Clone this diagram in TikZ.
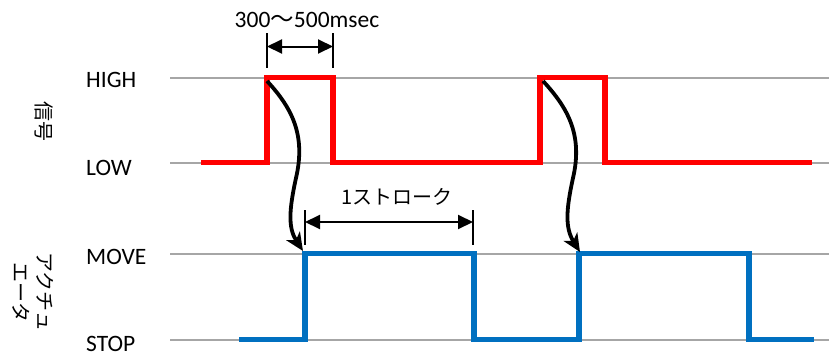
\documentclass[tikz,border=0pt]{standalone}
\usepackage{fontspec}
\setmainfont{Carlito}
\newfontfamily\cjk{Noto Sans CJK JP}
\usetikzlibrary{arrows.meta}
\definecolor{sigred}{RGB}{255,0,0}
\definecolor{actblue}{RGB}{0,112,192}
\definecolor{gridgray}{RGB}{166,166,166}
\begin{document}
\begin{tikzpicture}[x=1pt,y=-1pt,
  level/.style={draw=gridgray,line width=2pt},
  wave/.style={line width=5.5pt,line join=miter,line cap=butt},
  lbl/.style={anchor=west,inner sep=0pt,font=\fontsize{23.5}{26}\selectfont},
  jlbl/.style={inner sep=0pt,font=\cjk\fontsize{20}{24}\selectfont},
  dim/.style={line width=2pt,{Triangle[length=15pt,width=14pt]}-{Triangle[length=15pt,width=14pt]}},
  tick/.style={line width=1.5pt},
  cause/.style={line width=3.8pt,-{Stealth[length=18pt,width=16pt,inset=5pt]}}]
\useasboundingbox (0,0) rectangle (829,356);
% level lines
\coordinate (hl) at (170,77.5); \coordinate (hr) at (829,77.5);
\coordinate (ll) at (170,162.5); \coordinate (lr) at (829,162.5);
\coordinate (ml) at (170,253.5); \coordinate (mr) at (829,253.5);
\coordinate (sl) at (170,339.5); \coordinate (sr) at (829,339.5);
\draw[level] (hl) -- (hr);
\draw[level] (ll) -- (lr);
\draw[level] (ml) -- (mr);
\draw[level] (sl) -- (sr);
% labels
\node[lbl] (high) at (86,80) {HIGH};
\node[lbl] (low) at (86,168) {LOW};
\node[lbl] (move) at (86,257) {MOVE};
\node[lbl] (stop) at (86,344) {STOP};
\node[jlbl,rotate=-90] (sig) at (44,121) {信号};
\node[jlbl,rotate=-90,align=center] (act) at (33,292) {アクチュ\\エータ};
% signal waveform
\coordinate (r0) at (201,162.5);
\coordinate (r1) at (267,162.5); \coordinate (r2) at (267,77.5);
\coordinate (r3) at (333,77.5); \coordinate (r4) at (333,162.5);
\coordinate (r5) at (540,162.5); \coordinate (r6) at (540,77.5);
\coordinate (r7) at (605,77.5); \coordinate (r8) at (605,162.5);
\coordinate (r9) at (812,162.5);
\draw[wave,sigred] (r0) -- (r1) -- (r2) -- (r3) -- (r4) -- (r5) -- (r6) -- (r7) -- (r8) -- (r9);
% actuator waveform
\coordinate (b0) at (239,339.5);
\coordinate (b1) at (305,339.5); \coordinate (b2) at (305,253.5);
\coordinate (b3) at (474,253.5); \coordinate (b4) at (474,339.5);
\coordinate (b5) at (579,339.5); \coordinate (b6) at (579,253.5);
\coordinate (b7) at (749,253.5); \coordinate (b8) at (749,339.5);
\coordinate (b9) at (814,339.5);
\draw[wave,actblue] (b0) -- (b1) -- (b2) -- (b3) -- (b4) -- (b5) -- (b6) -- (b7) -- (b8) -- (b9);
% pulse width dimension
\coordinate (t1a) at (267,33); \coordinate (t1b) at (267,68);
\coordinate (t2a) at (333,33); \coordinate (t2b) at (333,68);
\draw[tick] (t1a) -- (t1b);
\draw[tick] (t2a) -- (t2b);
\coordinate (d1l) at (267,46.5); \coordinate (d1r) at (333,46.5);
\draw[dim] (d1l) -- (d1r);
\node[inner sep=0pt,font=\fontsize{23.5}{26}\selectfont] (pw) at (307,20) {300{\cjk ～}500msec};
% stroke dimension
\coordinate (t3a) at (305,210); \coordinate (t3b) at (305,245);
\coordinate (t4a) at (473,210); \coordinate (t4b) at (473,245);
\draw[tick] (t3a) -- (t3b);
\draw[tick] (t4a) -- (t4b);
\coordinate (d2l) at (305,222); \coordinate (d2r) at (473,222);
\draw[dim] (d2l) -- (d2r);
\node[jlbl] (st) at (397,197) {1ストローク};
% cause arrows
\coordinate (c1s) at (267,81); \coordinate (c1e) at (303,251);
\draw[cause] (c1s) .. controls (292,108) and (306,135) .. (296,178) .. controls (289,210) and (288,228) .. (c1e);
\coordinate (c2s) at (543,81); \coordinate (c2e) at (580,252);
\draw[cause] (c2s) .. controls (568,108) and (583,135) .. (573,178) .. controls (566,210) and (565,228) .. (c2e);
\end{tikzpicture}
\end{document}
